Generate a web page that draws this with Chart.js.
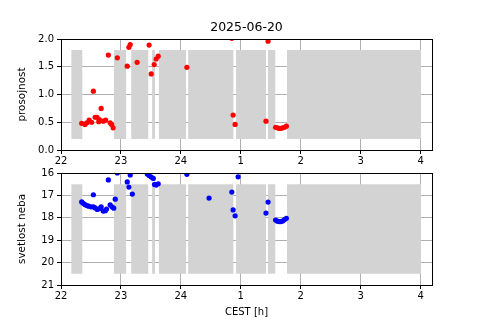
<!DOCTYPE html>
<html><head><meta charset="utf-8">
<script src="https://cdn.jsdelivr.net/npm/chart.js@4"></script>
<style>
html,body{margin:0;padding:0;background:#fff;}
#wrap{position:relative;width:480px;height:320px;overflow:hidden;background:#fff;}
canvas{position:absolute;left:0;}
#c1{top:0;} #c2{top:160px;}
</style></head><body>
<div id="wrap"><canvas id="c1" width="480" height="168"></canvas><canvas id="c2" width="480" height="160"></canvas></div>
<script>
const titleText = '2025-06-20';
const hourTicks = [22, 23, 24, 25, 26, 27, 28];
const hourLabels = ['22', '23', '24', '1', '2', '3', '4'];
const xMin = 22, xMax = 28.19;

// gray gap periods (start / end, hours)
const gapStarts = [22.17, 22.88, 23.17, 23.52, 23.63, 24.12, 24.92, 25.45, 25.77];
const gapEnds   = [22.36, 23.09, 23.46, 23.57, 24.09, 24.88, 25.42, 25.58, 28.01];
const transpBand = [0.2, 1.8];
const skyBand = [16.5, 20.5];

// prosojnost (transparency)
const transpTimes = [22.345, 22.40, 22.43, 22.47, 22.51, 22.54, 22.57, 22.60, 22.63, 22.64, 22.67, 22.705, 22.745, 22.79, 22.82, 22.845, 22.87, 22.94,
  23.105, 23.133, 23.155, 23.27, 23.47, 23.505, 23.555, 23.588, 23.622, 24.10, 24.85, 24.872, 24.905,
  25.42, 25.455, 25.58, 25.61, 25.64, 25.67, 25.70, 25.73, 25.76];
const transpValues = [0.48, 0.46, 0.49, 0.54, 0.50, 1.06, 0.59, 0.59, 0.51, 0.55, 0.75, 0.52, 0.54, 1.71, 0.49, 0.46, 0.40, 1.66,
  1.51, 1.85, 1.90, 1.58, 1.89, 1.37, 1.54, 1.64, 1.69, 1.49, 2.01, 0.63, 0.46,
  0.52, 1.96, 0.41, 0.40, 0.39, 0.39, 0.40, 0.41, 0.43];

// svetlost neba (sky brightness)
const skyTimes = [22.345, 22.37, 22.40, 22.43, 22.46, 22.50, 22.54, 22.54, 22.57, 22.605, 22.64, 22.67, 22.705, 22.74, 22.76, 22.79, 22.82, 22.85, 22.88, 22.905, 22.94,
  23.105, 23.133, 23.155, 23.19, 23.44, 23.47, 23.505, 23.54, 23.56, 23.588, 23.622, 24.10, 24.47, 24.85, 24.872, 24.905, 24.955,
  25.42, 25.455, 25.58, 25.61, 25.64, 25.67, 25.70, 25.73, 25.76];
const skyValues = [17.29, 17.35, 17.41, 17.45, 17.48, 17.51, 16.97, 17.51, 17.56, 17.63, 17.59, 17.51, 17.70, 17.68, 17.61, 16.31, 17.42, 17.51, 17.57, 17.17, 16.0,
  16.40, 16.63, 16.09, 16.94, 16.05, 16.11, 16.18, 16.24, 16.51, 16.54, 16.48, 16.06, 17.12, 16.85, 17.65, 17.91, 16.17,
  17.79, 17.30, 18.10, 18.15, 18.17, 18.17, 18.14, 18.08, 18.02];

Chart.defaults.font.family = 'DejaVu Sans';
Chart.defaults.font.size = 10;
Chart.defaults.color = '#000';

const frame = {
  id: 'frame',
  afterDraw(chart) {
    const {ctx, chartArea: a} = chart;
    ctx.save();
    ctx.strokeStyle = '#000';
    ctx.lineWidth = 1;
    ctx.strokeRect(Math.floor(a.left) + 0.5, Math.floor(a.top) + 0.5, Math.round(a.right - a.left), Math.round(a.bottom - a.top));
    ctx.restore();
  }
};

function gapDatasets(band, topVal, botVal) {
  return gapStarts.map((s, i) => ({
    type: 'line',
    data: [{x: s, y: topVal}, {x: gapEnds[i], y: topVal}],
    fill: {value: botVal},
    backgroundColor: '#d3d3d3',
    borderWidth: 0,
    borderColor: 'rgba(0,0,0,0)',
    pointRadius: 0,
    order: 2
  }));
}

function xScale(h) {
  return {
    type: 'linear', min: xMin, max: xMax,
    afterBuildTicks: s => { s.ticks = hourTicks.map(v => ({value: v})); },
    afterFit: s => { s.height = h; },
    ticks: {callback: (v) => hourLabels[hourTicks.indexOf(v)], padding: 1, maxRotation: 0, autoSkip: false, font: {size: 10}},
    grid: {color: '#b0b0b0', lineWidth: 1, tickColor: '#000', tickLength: 4},
    border: {display: true, color: '#000', width: 1}
  };
}

function makeChart(id, cfg) {
  return new Chart(document.getElementById(id), {
    type: 'scatter',
    data: {datasets: cfg.datasets},
    options: {
      responsive: false, animation: false, events: [],
      layout: {padding: cfg.padding},
      plugins: {legend: {display: false}, tooltip: {enabled: false}, title: cfg.title},
      scales: {x: cfg.x, y: cfg.y}
    },
    plugins: [frame]
  });
}

makeChart('c1', {
  padding: {left: 0, right: 48, top: 0, bottom: 0},
  title: {display: true, text: titleText, fullSize: false, color: '#000', font: {size: 12.5, weight: 'normal'}, padding: {top: 20, bottom: 4}},
  datasets: [
    ...gapDatasets(transpBand, transpBand[1], transpBand[0]),
    {type: 'scatter', data: transpTimes.map((t, i) => ({x: t, y: transpValues[i]})), backgroundColor: '#ff0000', borderColor: '#ff0000', borderWidth: 0, pointRadius: 2.6, order: 1}
  ],
  x: xScale(18),
  y: {
    type: 'linear', min: 0, max: 2,
    afterBuildTicks: s => { s.ticks = [0, 0.5, 1, 1.5, 2].map(v => ({value: v})); },
    afterFit: s => { s.width = 61; },
    ticks: {callback: v => v.toFixed(1), padding: 3},
    grid: {color: '#b0b0b0', lineWidth: 1, tickColor: '#000', tickLength: 4},
    border: {display: true, color: '#000', width: 1},
    title: {display: true, text: 'prosojnost', font: {size: 10.4}, padding: {top: 16, bottom: 0}}
  }
});

const x2 = xScale(35);
x2.title = {display: true, text: 'CEST [h]', font: {size: 10}, padding: {top: 0, bottom: 1.5}};
makeChart('c2', {
  padding: {left: 0, right: 48, top: 13, bottom: 0},
  title: {display: false},
  datasets: [
    ...gapDatasets(skyBand, skyBand[0], skyBand[1]),
    {type: 'scatter', data: skyTimes.map((t, i) => ({x: t, y: skyValues[i]})), backgroundColor: '#0000ff', borderColor: '#0000ff', borderWidth: 0, pointRadius: 2.6, order: 1}
  ],
  x: x2,
  y: {
    type: 'linear', min: 16, max: 21, reverse: true,
    afterBuildTicks: s => { s.ticks = [16, 17, 18, 19, 20, 21].map(v => ({value: v})); },
    afterFit: s => { s.width = 61; },
    ticks: {padding: 3},
    grid: {color: '#b0b0b0', lineWidth: 1, tickColor: '#000', tickLength: 4},
    border: {display: true, color: '#000', width: 1},
    title: {display: true, text: 'svetlost neba', font: {size: 10.4}, padding: {top: 16, bottom: 0}}
  }
});
</script>
</body></html>
